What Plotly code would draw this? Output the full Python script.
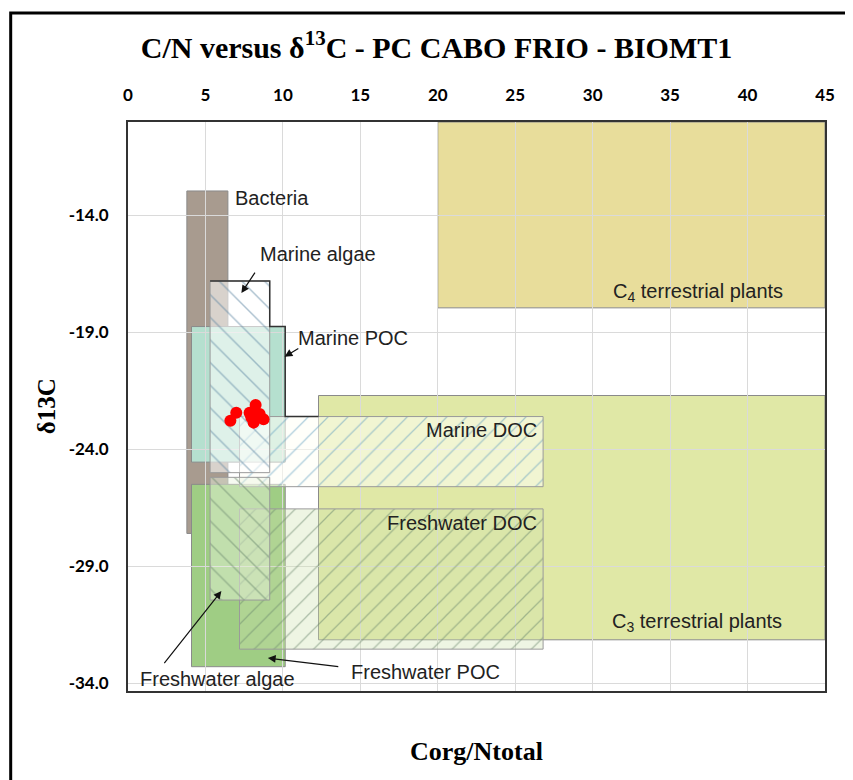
import plotly.graph_objects as go

# ---------------- data ----------------
# solid (filled) source boxes: C/N range (x) and d13C range (y)
solid_names = ["C4 terrestrial plants", "C3 terrestrial plants", "Bacteria", "Marine POC", "Freshwater POC"]
solid_x0 = [20.0, 12.3, 3.8, 4.1, 4.1]
solid_x1 = [45.0, 45.0, 6.45, 10.15, 10.15]
solid_y0 = [-17.95, -32.15, -27.6, -24.55, -33.3]
solid_y1 = [-10.0, -21.7, -12.95, -18.75, -25.5]
solid_colors = ["#e8dd9b", "#e0e8a6", "#a89b8f", "#b5e0cf", "#9fcd84"]

# hatched source boxes
hatch_names = ["Marine DOC", "Freshwater DOC", "Marine algae", "Freshwater algae"]
hatch_x0 = [7.2, 7.2, 5.3, 5.3]
hatch_x1 = [26.8, 26.8, 9.15, 9.15]
hatch_y0 = [-25.6, -32.55, -25.0, -30.45]
hatch_y1 = [-22.6, -26.55, -16.8, -25.2]
hatch_fill = ["rgba(255,255,245,0.55)", "rgba(205,225,175,0.35)",
              "rgba(255,255,255,0.55)", "rgba(235,245,225,0.45)"]
hatch_line = ["#5f9ebf", "#6a876d", "#5a84a0", "#6a876d"]
hatch_shape = ["/", "/", "\\", "\\"]

# sample points (C/N, d13C)
pts_x = [6.61, 6.99, 7.85, 8.24, 8.50, 8.75, 8.11, 7.96]
pts_y = [-22.78, -22.44, -22.44, -22.11, -22.49, -22.72, -22.86, -22.63]

# text labels
label_text = ["Bacteria", "Marine algae", "Marine POC", "Marine DOC", "Freshwater DOC",
              "C<sub>4</sub> terrestrial plants", "C<sub>3</sub> terrestrial plants",
              "Freshwater algae", "Freshwater POC"]
label_x = [6.75, 8.37, 10.86, 26.55, 26.55, 42.4, 42.37, 0.65, 14.26]
label_y = [-13.24, -15.64, -19.24, -23.18, -27.15, -17.3, -31.43, -33.81, -33.53]
label_anchor = ["left", "left", "left", "right", "right", "right", "right", "left", "left"]

# arrows (tail -> head)
arrow_tail_x = [8.39, 11.19, 2.15, 13.77]
arrow_tail_y = [-16.25, -19.61, -33.31, -33.31]
arrow_head_x = [7.32, 10.11, 6.03, 9.03]
arrow_head_y = [-17.32, -20.04, -30.06, -32.93]

x_ticks = [0, 5, 10, 15, 20, 25, 30, 35, 40, 45]
y_ticks = [-34, -29, -24, -19, -14]
y_tick_labels = ["-34.0", "-29.0", "-24.0", "-19.0", "-14.0"]

# ---------------- figure ----------------
# page body has an 8 px margin: figure is drawn at (8, 8)
W, H = 845, 772
OFF = 8

fig = go.Figure()

shapes = []
for i in range(len(solid_names)):
    shapes.append(dict(type="rect", xref="x", yref="y",
                       x0=solid_x0[i], x1=solid_x1[i], y0=solid_y0[i], y1=solid_y1[i],
                       fillcolor=solid_colors[i], line=dict(color="#8a8a8a", width=1),
                       layer="below"))

for i in range(len(hatch_names)):
    xs = [hatch_x0[i], hatch_x1[i], hatch_x1[i], hatch_x0[i], hatch_x0[i]]
    ys = [hatch_y0[i], hatch_y0[i], hatch_y1[i], hatch_y1[i], hatch_y0[i]]
    fig.add_trace(go.Scatter(
        x=xs, y=ys, mode="lines", fill="toself", name=hatch_names[i],
        fillcolor=hatch_fill[i],
        fillpattern=dict(shape=hatch_shape[i], fgcolor=hatch_line[i],
                         size=16 if hatch_shape[i] == "\\" else 14,
                         solidity=0.09, fillmode="overlay"),
        line=dict(color="#9a9a9a", width=1), hoverinfo="skip", showlegend=False))

# dark envelope outline (marine algae -> marine POC -> marine DOC -> C3)
ma, mp, md = 2, 3, 0
env_x = [hatch_x0[ma], hatch_x1[ma], hatch_x1[ma], solid_x1[mp], solid_x1[mp], solid_x0[1]]
env_y = [hatch_y1[ma], hatch_y1[ma], solid_y1[mp], solid_y1[mp], hatch_y1[md], hatch_y1[md]]
fig.add_trace(go.Scatter(x=env_x, y=env_y, mode="lines",
                         line=dict(color="#333333", width=1.5),
                         hoverinfo="skip", showlegend=False))

fig.add_trace(go.Scatter(x=pts_x, y=pts_y, mode="markers", name="BIOMT1",
                         marker=dict(color="#ff0000", size=12),
                         showlegend=False))

annotations = []
for i in range(len(label_text)):
    annotations.append(dict(x=label_x[i], y=label_y[i], xref="x", yref="y",
                            text=label_text[i], showarrow=False,
                            xanchor=label_anchor[i], yanchor="middle",
                            font=dict(family="Liberation Sans, Arial", size=20, color="#222222")))
for i in range(len(arrow_tail_x)):
    annotations.append(dict(x=arrow_head_x[i], y=arrow_head_y[i], xref="x", yref="y",
                            ax=arrow_tail_x[i], ay=arrow_tail_y[i], axref="x", ayref="y",
                            text=" ", showarrow=True, arrowhead=2, arrowsize=1.3,
                            arrowwidth=1.2, arrowcolor="#111111", standoff=0, startstandoff=0))

# axis titles
annotations.append(dict(x=-0.1166, y=0.5, xref="paper", yref="paper",
                        xanchor="center", yanchor="middle",
                        text="δ13C", textangle=-90, showarrow=False,
                        font=dict(family="Liberation Serif, Times New Roman", size=25,
                                  color="black", weight="bold")))
annotations.append(dict(x=0.5, y=-0.107, xref="paper", yref="paper",
                        xanchor="center", yanchor="middle",
                        text="Corg/Ntotal", showarrow=False,
                        font=dict(family="Liberation Serif, Times New Roman", size=26,
                                  color="black", weight="bold")))

# outer frame
shapes.append(dict(type="rect", xref="paper", yref="paper",
                   x0=-0.1683, x1=1.06, y0=-0.2, y1=1.1916,
                   line=dict(color="black", width=3), fillcolor="rgba(0,0,0,0)", layer="above"))

fig.update_layout(
    width=W, height=H,
    margin=dict(l=128 - OFF, r=28, t=122 - OFF, b=89),
    paper_bgcolor="white", plot_bgcolor="white",
    title=dict(text="C/N versus δ<sup>13</sup>C - PC CABO FRIO - BIOMT1",
               x=(436.5 - OFF) / W, xref="container", xanchor="center",
               y=1 - (47 - OFF) / H, yref="container", yanchor="middle",
               font=dict(family="Liberation Serif, Times New Roman", size=30,
                         color="black", weight="bold")),
    shapes=shapes, annotations=annotations, showlegend=False,
)
fig.update_xaxes(range=[0, 45], side="top", tickvals=x_ticks, ticks="",
                 ticklabelstandoff=12,
                 tickfont=dict(family="Lato", size=17, color="black", weight="bold"),
                 showgrid=True, gridcolor="#dadada", gridwidth=1, zeroline=False,
                 showline=True, mirror=True, linecolor="#333333", linewidth=2)
fig.update_yaxes(range=[-34.34, -10.0], tickvals=y_ticks, ticktext=y_tick_labels, ticks="",
                 ticklabelstandoff=14,
                 tickfont=dict(family="Lato", size=17, color="black", weight="bold"),
                 showgrid=True, gridcolor="#dadada", gridwidth=1, zeroline=False,
                 showline=True, mirror=True, linecolor="#333333", linewidth=2)

fig.write_html("out.html")
